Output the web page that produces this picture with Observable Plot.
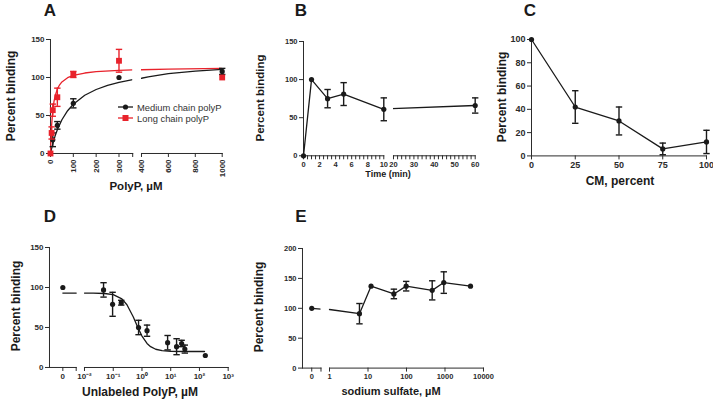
<!DOCTYPE html>
<html><head><meta charset="utf-8">
<script src="https://cdn.jsdelivr.net/npm/d3@7"></script>
<script src="https://cdn.jsdelivr.net/npm/@observablehq/plot@0.6"></script>
<style>
html,body{margin:0;padding:0;background:#fff;}
#fig{position:relative;width:713px;height:401px;overflow:hidden;background:#fff;}
#fig svg{position:absolute;overflow:visible;background:transparent !important;max-width:none !important;}
</style></head><body><div id="fig"></div>
<script>
// ---------------- DATA ----------------
// Panel A : binding vs PolyP (µM)
const aYTicks = [0, 50, 100, 150];
const aXTicks1 = [0, 100, 200, 300];
const aXTicks2 = [400, 600, 800, 1000];
const aMedX = [0, 10, 30, 100, 300, 1000];
const aMedY = [0, 18, 37, 66, 100, 108];
const aMedErr = [0, 9, 5, 6, 0, 4];
const aLongX = [0, 5, 10, 30, 100, 300, 1000];
const aLongY = [0, 27, 57, 74, 104, 122, 100];
const aLongErr = [0, 8, 8, 12, 4, 15, 0];
const aMedFitX = [0, 5, 10, 20, 30, 50, 75, 100, 150, 200, 250, 300, 360, 400, 450, 600, 800, 1000];
const aMedFitY = [0, 6.7, 12.6, 22.9, 31.3, 44.4, 56.3, 64.9, 76.6, 84.2, 89.6, 93.5, 97.1, 99.0, 100.9, 105.1, 108.5, 110.6];
const aLongFitX = [0, 2, 5, 10, 15, 20, 30, 40, 50, 75, 100, 150, 200, 300, 360, 400, 600, 1000];
const aLongFitY = [0, 18.8, 37.7, 56.5, 67.8, 75.3, 84.8, 90.4, 94.2, 99.7, 102.7, 105.9, 107.6, 109.4, 109.9, 110.2, 111.1, 111.9];
const aSeries = ["Medium chain polyP", "Long chain polyP"];

// Panel B : binding vs time (min)
const bYTicks = [0, 50, 100, 150];
const bXTicks1 = [0, 2, 4, 6, 8, 10];
const bXTicks2 = [20, 30, 40, 50, 60];
const bMinor1 = 0.5, bMinor2 = 2;
const bX = [0, 1, 3, 5, 10, 60];
const bY = [0, 100, 75, 81, 61, 66];
const bErr = [0, 0, 12, 15, 15, 10];

// Panel C : binding vs CM (percent)
const cYTicks = [0, 20, 40, 60, 80, 100];
const cXTicks = [0, 25, 50, 75, 100];
const cX = [0, 25, 50, 75, 100];
const cY = [100, 42, 30, 6, 12];
const cErr = [0, 14, 12, 5, 10];

// Panel D : binding vs unlabeled PolyP (µM, log)
const dYTicks = [0, 50, 100, 150];
const dXTicks = [0.01, 0.1, 1, 10, 100, 1000];
const dXTickLabels = ["10\u207B\u00B2", "10\u207B\u00B9", "10\u2070", "10\u00B9", "10\u00B2", "10\u00B3"];
const dZeroY = 100;
const dX = [0.046, 0.095, 0.19, 0.76, 1.5, 7.8, 16, 24, 31, 160];
const dY = [97, 79, 81, 50, 46, 31, 26, 30, 23, 15];
const dErr = [9, 15, 3, 9, 7, 9, 10, 4, 5, 0];
const dFitX = [0.01, 0.02, 0.05, 0.1, 0.2, 0.3, 0.5, 0.7, 1, 1.5, 2, 3, 5, 10, 30, 150];
const dFitY = [93, 92.9, 92.5, 91, 85.7, 78.4, 63.2, 51, 39.3, 30.1, 26, 22.8, 21, 20.3, 20, 20];

// Panel E : binding vs sodium sulfate (µM, log)
const eYTicks = [0, 50, 100, 150, 200];
const eXTicks = [1, 10, 100, 1000, 10000];
const eZeroY = 100;
const eX = [6, 12, 47, 98, 465, 930, 4600];
const eY = [91, 137, 124, 137, 130, 143, 137];
const eErr = [17, 0, 8, 8, 16, 18, 0];

// ---------------- HELPERS ----------------
const FONT = '"Liberation Sans", Arial, sans-serif';
const INK = "#1a1a1a", RED = "#e8222b", AX = "#2b2b2b";
const fig = document.getElementById("fig");
const cap = {draw(ctx, size) { const w = Math.sqrt(size / Math.PI); ctx.moveTo(-w, 0); ctx.lineTo(w, 0); }};
const rows = (xs, ys, es) => xs.map((x, i) => ({x, y: ys[i], e: es ? es[i] : 0, lo: ys[i] - (es ? es[i] : 0), hi: ys[i] + (es ? es[i] : 0)}));
const pts = (xs, ys) => xs.map((x, i) => ({x, y: ys[i]}));
const range = (a, b, s) => d3.range(a, b + s / 2, s);

function errMarks(data, color) {
  const d = data.filter(r => r.e > 0);
  return [
    Plot.ruleX(d, {x: "x", y1: "lo", y2: "hi", stroke: color, strokeWidth: 1.4}),
    Plot.dot(d, {x: "x", y: "lo", symbol: cap, r: 3.2, stroke: color, fill: "none", strokeWidth: 1.4}),
    Plot.dot(d, {x: "x", y: "hi", symbol: cap, r: 3.2, stroke: color, fill: "none", strokeWidth: 1.4})
  ];
}
const blackDots = d => Plot.dot(d, {x: "x", y: "y", r: 2.6, fill: INK, stroke: "none"});
const redSquares = d => Plot.dot(d, {x: "x", y: "y", symbol: "square", r: 3.3, fill: RED, stroke: "none"});

function seg({x0, x1, yTop, yBot, x, y, marks, yAxis = true, fontSize = 8}) {
  const ml = 40, mr = 16, mt = 10, mb = 36;
  const svg = Plot.plot({
    width: x1 - x0 + ml + mr, height: yBot - yTop + mt + mb,
    marginLeft: ml, marginRight: mr, marginTop: mt, marginBottom: mb,
    style: {fontFamily: FONT, fontSize: fontSize + "px", fontWeight: "bold", color: AX, background: "transparent", overflow: "visible"},
    x: {label: null, line: true, tickSize: 4, tickPadding: 2, ...x},
    y: {label: null, line: true, tickSize: 4, tickPadding: 2, axis: yAxis ? "left" : null, ...y},
    marks
  });
  svg.style.left = (x0 - ml) + "px";
  svg.style.top = (yTop - mt) + "px";
  fig.appendChild(svg);
}

// ---------------- PANEL A ----------------
{
  const med = rows(aMedX, aMedY, aMedErr), lng = rows(aLongX, aLongY, aLongErr);
  const medFit = pts(aMedFitX, aMedFitY), lngFit = pts(aLongFitX, aLongFitY);
  const yCfg = {domain: [0, 150], ticks: aYTicks};
  const mk = (lo, hi) => [
    Plot.line(medFit, {x: "x", y: "y", stroke: INK, strokeWidth: 1.3, clip: true}),
    Plot.line(lngFit, {x: "x", y: "y", stroke: RED, strokeWidth: 1.3, clip: true}),
    ...errMarks(med.filter(r => r.x >= lo && r.x <= hi), INK),
    blackDots(med.filter(r => r.x >= lo && r.x <= hi)),
    ...errMarks(lng.filter(r => r.x >= lo && r.x <= hi), RED),
    redSquares(lng.filter(r => r.x >= lo && r.x <= hi))
  ];
  seg({x0: 49.5, x1: 131.7, yTop: 39, yBot: 153, fontSize: 8,
       x: {domain: [0, 360], ticks: [...aXTicks1, 360], tickFormat: d => aXTicks1.includes(d) ? String(d) : "", tickRotate: -90},
       y: yCfg, marks: mk(0, 360)});
  seg({x0: 141, x1: 221.7, yTop: 39, yBot: 153, fontSize: 8, yAxis: false,
       x: {domain: [400, 1000], ticks: aXTicks2, tickFormat: d => String(d), tickRotate: -90},
       y: yCfg, marks: mk(400, 1000)});
}

// ---------------- PANEL B ----------------
{
  const data = rows(bX, bY, bErr);
  const yCfg = {domain: [0, 150], ticks: bYTicks};
  const s1 = data.filter(r => r.x <= 10), s2 = data.filter(r => r.x >= 20);
  seg({x0: 302.7, x1: 383, yTop: 40.7, yBot: 155, fontSize: 7.5,
       x: {domain: [0, 10], ticks: range(0, 10, bMinor1), tickFormat: d => bXTicks1.includes(d) ? String(d) : ""},
       y: yCfg,
       marks: [Plot.line(s1, {x: "x", y: "y", stroke: INK, strokeWidth: 1.3}), ...errMarks(s1, INK), blackDots(s1)]});
  seg({x0: 393.3, x1: 475, yTop: 40.7, yBot: 155, fontSize: 7.5, yAxis: false,
       x: {domain: [20, 60], ticks: range(20, 60, bMinor2), tickFormat: d => bXTicks2.includes(d) ? String(d) : ""},
       y: yCfg,
       marks: [Plot.line(data.slice(-2), {x: "x", y: "y", stroke: INK, strokeWidth: 1.3, clip: true}), ...errMarks(s2, INK), blackDots(s2)]});
}

// ---------------- PANEL C ----------------
{
  const data = rows(cX, cY, cErr);
  seg({x0: 531, x1: 706, yTop: 39.3, yBot: 155.7, fontSize: 9,
       x: {domain: [0, 100], ticks: cXTicks},
       y: {domain: [0, 100], ticks: cYTicks},
       marks: [Plot.line(data, {x: "x", y: "y", stroke: INK, strokeWidth: 1.3}), ...errMarks(data, INK), blackDots(data)]});
}

// ---------------- PANEL D ----------------
{
  const data = rows(dX, dY, dErr);
  const yCfg = {domain: [0, 150], ticks: dYTicks};
  seg({x0: 49.3, x1: 76, yTop: 247.3, yBot: 367.3, fontSize: 8,
       x: {domain: [-1, 1], ticks: [0, 1], tickFormat: d => d === 0 ? "0" : ""},
       y: yCfg,
       marks: [Plot.line(pts([0, 1], [dFitY[0], dFitY[0]]), {x: "x", y: "y", stroke: INK, strokeWidth: 1.3}),
               blackDots(pts([0], [dZeroY]))]});
  seg({x0: 84.3, x1: 228, yTop: 247.3, yBot: 367.3, fontSize: 8, yAxis: false,
       x: {type: "log", domain: [0.01, 1000], ticks: dXTicks, tickFormat: d => dXTickLabels[dXTicks.indexOf(d)]},
       y: yCfg,
       marks: [Plot.line(pts(dFitX, dFitY), {x: "x", y: "y", stroke: INK, strokeWidth: 1.3}), ...errMarks(data, INK), blackDots(data)]});
}

// ---------------- PANEL E ----------------
{
  const data = rows(eX, eY, eErr);
  const yCfg = {domain: [0, 200], ticks: eYTicks};
  seg({x0: 301.5, x1: 320, yTop: 247.7, yBot: 367.3, fontSize: 7.5,
       x: {domain: [-1, 1], ticks: [0, 1], tickFormat: d => d === 0 ? "0" : ""},
       y: yCfg,
       marks: [Plot.line(pts([0, eX[0]], [eZeroY, eY[0]]), {x: "x", y: "y", stroke: INK, strokeWidth: 1.3, clip: true}),
               blackDots(pts([0], [eZeroY]))]});
  seg({x0: 329, x1: 483, yTop: 247.7, yBot: 367.3, fontSize: 7.5, yAxis: false,
       x: {type: "log", domain: [1, 10000], ticks: eXTicks, tickFormat: d => String(d)},
       y: yCfg,
       marks: [Plot.line([{x: 1, y: eZeroY - 2}, ...data], {x: "x", y: "y", stroke: INK, strokeWidth: 1.3}), ...errMarks(data, INK), blackDots(data)]});
}

// ---------------- TEXT OVERLAY ----------------
const ov = d3.select(fig).append("svg").attr("width", 713).attr("height", 401)
  .style("left", "0px").style("top", "0px").style("font-family", FONT);
function txt(t, x, y, size, {weight = "bold", anchor = "middle", rotate = false, fill = "#1a1a1a"} = {}) {
  const e = ov.append("text").attr("x", x).attr("y", y).attr("font-size", size).attr("font-weight", weight)
    .attr("text-anchor", anchor).attr("fill", fill).text(t);
  if (rotate) e.attr("transform", `rotate(-90 ${x} ${y})`).attr("dominant-baseline", "central");
  return e;
}
// panel letters
txt("A", 50, 16, 17); txt("B", 301, 16, 17); txt("C", 530, 16, 17);
txt("D", 50, 222, 17); txt("E", 301, 222, 17);
// y titles
txt("Percent binding", 11, 96, 12, {rotate: true});
txt("Percent binding", 260, 98, 11.5, {rotate: true});
txt("Percent binding", 502, 97, 12, {rotate: true});
txt("Percent binding", 16, 306, 12, {rotate: true});
txt("Percent binding", 259, 307, 12, {rotate: true});
// x titles
txt("PolyP, \u00B5M", 136, 190, 11.5);
txt("Time (min)", 388, 177, 9);
txt("CM, percent", 620, 185, 12);
txt("Unlabeled PolyP, \u00B5M", 140, 396, 12);
txt("sodium sulfate, \u00B5M", 391, 395, 11);
// legend of panel A
ov.append("line").attr("x1", 118).attr("x2", 133).attr("y1", 107).attr("y2", 107).attr("stroke", INK).attr("stroke-width", 1.3);
ov.append("circle").attr("cx", 125.5).attr("cy", 107).attr("r", 2.6).attr("fill", INK);
ov.append("line").attr("x1", 118).attr("x2", 133).attr("y1", 118).attr("y2", 118).attr("stroke", RED).attr("stroke-width", 1.3);
ov.append("rect").attr("x", 122.5).attr("y", 115).attr("width", 6).attr("height", 6).attr("fill", RED);
txt(aSeries[0], 137, 110.5, 9.4, {weight: "normal", anchor: "start", fill: "#333"});
txt(aSeries[1], 137, 121.5, 9.4, {weight: "normal", anchor: "start", fill: "#333"});
</script></body></html>
